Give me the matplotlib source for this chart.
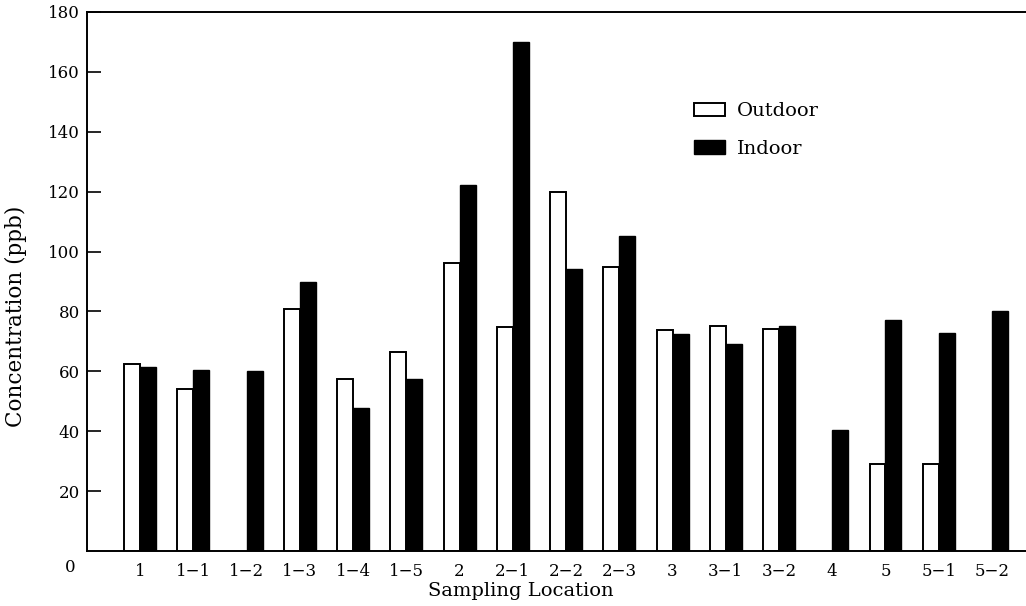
import matplotlib.pyplot as plt
import numpy as np

plt.rcParams['font.family'] = ['DejaVu Serif']

locations = ['1', '1-1', '1-2', '1-3', '1-4', '1-5', '2', '2-1', '2-2', '2-3',
             '3', '3-1', '3-2', '4', '5', '5-1', '5-2']
outdoor = [62.3, 54.0, 0, 80.7, 57.3, 66.5, 96.1, 74.9, 119.8, 94.7,
           73.8, 75.1, 74.0, 0, 29.0, 29.0, 0]
indoor = [61.5, 60.4, 60.1, 89.9, 47.9, 57.3, 122.1, 170.0, 94.1, 105.2,
          72.5, 69.1, 75.2, 40.4, 77.0, 72.7, 80.0]

x = np.arange(1, len(locations) + 1)
w = 0.3

fig = plt.figure(figsize=(10.26, 6.06), dpi=100)
ax = fig.add_axes([0.0848, 0.0908, 0.9152, 0.8894])

out_h = [v if v > 0 else np.nan for v in outdoor]
ax.bar(x, out_h, width=-w, align='edge', color='white', edgecolor='black',
       linewidth=1.4, label='Outdoor')
ax.bar(x, indoor, width=w, align='edge', color='black', edgecolor='black',
       linewidth=1.0, label='Indoor')

ax.set_xlim(0, 17.64)
ax.set_ylim(0, 180)
ax.set_yticks(range(20, 181, 20))
ax.set_xticks(x)
ax.set_xticklabels([s.replace('-', '\u2212') for s in locations])
ax.tick_params(axis='y', direction='in', length=10, width=1.2, labelsize=12, pad=5)
ax.tick_params(axis='x', length=0, labelsize=12, pad=9)
ax.spines['right'].set_visible(False)
for s in ['left', 'bottom', 'top']:
    ax.spines[s].set_linewidth(1.4)

ax.text(-0.012, -0.03, '0', transform=ax.transAxes, ha='right', va='center', fontsize=12)

ax.set_ylabel('Concentration (ppb)', fontsize=15.5)
ax.yaxis.set_label_coords(-0.064, 0.436)
ax.set_xlabel('Sampling Location', fontsize=14)
ax.xaxis.set_label_coords(0.462, -0.058)

ax.legend(loc='upper left', bbox_to_anchor=(0.628, 0.865), frameon=False,
          fontsize=14, handlelength=1.6, handleheight=0.7, handletextpad=0.6,
          labelspacing=1.0)

fig.savefig('out.png', dpi=100)
